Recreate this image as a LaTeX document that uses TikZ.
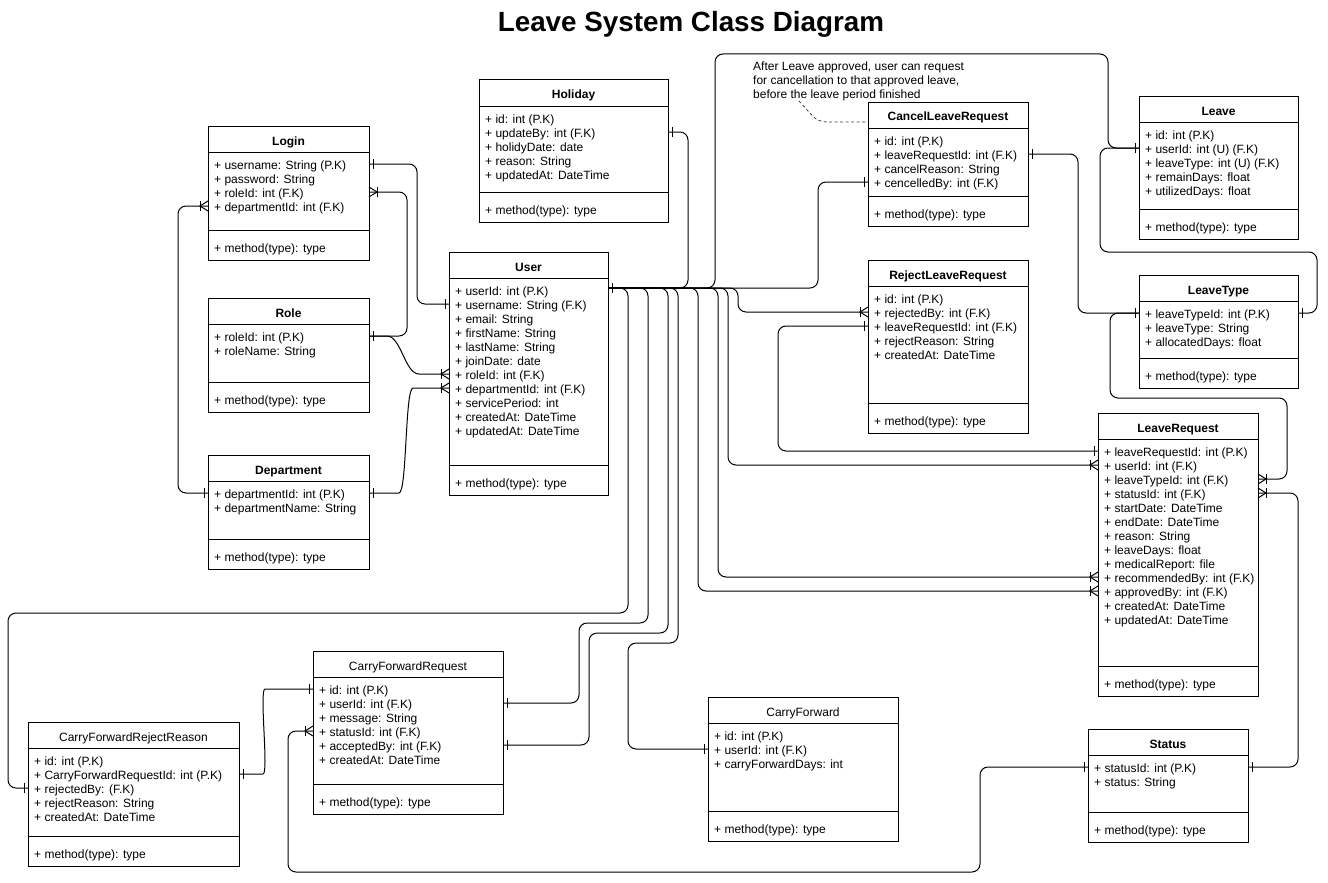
\documentclass[tikz,border=0pt]{standalone}
\usepackage{fontspec}
\setmainfont{Liberation Sans}
\usetikzlibrary{calc}
\tikzset{
  cbox/.style={draw, line width=1pt, inner sep=0pt, outer sep=0pt},
  cline/.style={line width=1pt},
  ctitle/.style={font=\fontsize{12}{14}\selectfont, inner sep=0pt},
  cattr/.style={font=\fontsize{12}{14}\selectfont, inner sep=0pt, text height=10pt, text depth=0pt},
  notetext/.style={font=\fontsize{12}{14}\selectfont, inner sep=0pt, align=left},
  titlefont/.style={font=\bfseries\fontsize{27.8}{32}\selectfont, inner sep=0pt},
  conn/.style={draw, line width=1pt, rounded corners=8pt},
  notelink/.style={draw, line width=0.8pt, black!75, dash pattern=on 3pt off 2.5pt, rounded corners=8pt},
  mk/.style={line width=1pt},
  pics/one/.style={code={\draw[mk] (4,-5) -- (4,5);}},
  pics/many/.style={code={\draw[mk] (8,-5) -- (8,5); \draw[mk] (0,-5) -- (8,0) -- (0,5);}},
}
\newcommand{\erclass}[7]{%
  \node[cbox, minimum width=#4pt, minimum height=#5pt, anchor=north west] (#1) at (#2,#3) {};
  \draw[cline] ([yshift=-26pt]#1.north west) -- ([yshift=-26pt]#1.north east);
  \draw[cline] ([yshift=30pt]#1.south west) -- ([yshift=30pt]#1.south east);
  \node[ctitle, anchor=base] (#1-t) at ([yshift=-19pt]#1.north) {#6};
  \node[cattr, anchor=base west] (#1-m) at ([xshift=6pt, yshift=8pt]#1.south west) {+ method(type): type};
  \foreach \attr [count=\idx] in {#7} {
    \node[cattr, anchor=base west] (#1-a\idx) at ([xshift=6pt, yshift={-(43+(\idx-1)*14)*1pt}]#1.north west) {\attr};
  }
}
\begin{document}
\begin{tikzpicture}[x=1pt,y=-1pt]
\fill[white] (0,0) rectangle (1328,883);
\useasboundingbox (0,0) rectangle (1328,883);

\node[titlefont, anchor=base] (title) at (691,32) {Leave System Class Diagram};

\erclass{login}{208}{126}{161}{134}{\textbf{Login}}{+ username: String (P.K),+ password: String,+ roleId: int (F.K),+ departmentId: int (F.K)}
\erclass{role}{208}{298}{161}{114}{\textbf{Role}}{+ roleId: int (P.K),+ roleName: String}
\erclass{dept}{208}{455}{161}{114}{\textbf{Department}}{+ departmentId: int (P.K),+ departmentName: String}
\erclass{user}{449}{252}{159}{243}{\textbf{User}}{+ userId: int (P.K),+ username: String (F.K),+ email: String,+ firstName: String,+ lastName: String,+ joinDate: date,+ roleId: int (F.K),+ departmentId: int (F.K),+ servicePeriod: int,+ createdAt: DateTime,+ updatedAt: DateTime}
\erclass{holiday}{479}{80}{189}{142}{\textbf{Holiday}}{+ id: int (P.K),+ updateBy: int (F.K),+ holidyDate: date,+ reason: String,+ updatedAt: DateTime}
\erclass{cancel}{868}{102}{160}{124}{\textbf{CancelLeaveRequest}}{+ id: int (P.K),+ leaveRequestId: int (F.K),+ cancelReason: String,+ cencelledBy: int (F.K)}
\erclass{reject}{868}{260}{160}{173}{\textbf{RejectLeaveRequest}}{+ id: int (P.K),+ rejectedBy: int (F.K),+ leaveRequestId: int (F.K),+ rejectReason: String,+ createdAt: DateTime}
\erclass{leave}{1139}{96}{159}{143}{\textbf{Leave}}{+ id: int (P.K),+ userId: int (U) (F.K),+ leaveType: int (U) (F.K),+ remainDays: float,+ utilizedDays: float}
\erclass{leavetype}{1139}{275}{159}{113}{\textbf{LeaveType}}{+ leaveTypeId: int (P.K),+ leaveType: String,+ allocatedDays: float}
\erclass{lr}{1098}{413}{160}{283}{\textbf{LeaveRequest}}{+ leaveRequestId: int (P.K),+ userId: int (F.K),+ leaveTypeId: int (F.K),+ statusId: int (F.K),+ startDate: DateTime,+ endDate: DateTime,+ reason: String,+ leaveDays: float,+ medicalReport: file,+ recommendedBy: int (F.K),+ approvedBy: int (F.K),+ createdAt: DateTime,+ updatedAt: DateTime}
\erclass{status}{1088}{729}{160}{113}{\textbf{Status}}{+ statusId: int (P.K),+ status: String}
\erclass{cf}{708}{697}{190}{144}{CarryForward}{+ id: int (P.K),+ userId: int (F.K),+ carryForwardDays: int}
\erclass{cfr}{313}{651}{190}{163}{CarryForwardRequest}{+ id: int (P.K),+ userId: int (F.K),+ message: String,+ statusId: int (F.K),+ acceptedBy: int (F.K),+ createdAt: DateTime}
\erclass{cfrr}{28}{722}{211}{144}{CarryForwardRejectReason}{+ id: int (P.K),+ CarryForwardRequestId: int (P.K),+ rejectedBy: (F.K),+ rejectReason: String,+ createdAt: DateTime}

% note
\node[notetext, anchor=north west] (note) at (753,62) {After Leave approved, user can request\\for cancellation to that approved leave,\\before the leave period finished};
\coordinate (notetail) at (799,101);
\draw[notelink] (notetail) -- (818,122) -- ([yshift=-20pt]cancel.north west);

% endpoints
\coordinate (lgU) at (login-a1.west -| login.east);
\coordinate (lgR) at (login-a3.west -| login.east);
\coordinate (lgD) at (login-a4.west -| login.west);
\coordinate (roL) at (role-a1.west -| role.east);
\coordinate (deL) at (dept-a1.west -| dept.west);
\coordinate (deR) at (dept-a1.west -| dept.east);
\coordinate (usN) at (user-a2.west -| user.west);
\coordinate (usR) at (user-a7.west -| user.west);
\coordinate (usD) at (user-a8.west -| user.west);
\coordinate (usO) at (user.east |- 0,288);
\coordinate (hoU) at (holiday-a2.west -| holiday.east);
\coordinate (lvU) at (leave-a2.west -| leave.west);
\coordinate (clL) at (cancel-a2.west -| cancel.east);
\coordinate (clC) at (cancel-a4.west -| cancel.west);
\coordinate (rjR) at (reject-a2.west -| reject.west);
\coordinate (rjL) at (reject-a3.west -| reject.west);
\coordinate (ltW) at (leavetype-a1.west -| leavetype.west);
\coordinate (ltE) at (leavetype-a1.west -| leavetype.east);
\coordinate (lrI) at (lr-a1.west -| lr.west);
\coordinate (lrU) at (lr-a2.west -| lr.west);
\coordinate (lrT) at (lr-a3.west -| lr.east);
\coordinate (lrS) at (lr-a4.west -| lr.east);
\coordinate (lrR) at (lr-a10.west -| lr.west);
\coordinate (lrA) at (lr-a11.west -| lr.west);
\coordinate (stE) at (status-a1.west -| status.east);
\coordinate (stW) at (status-a1.west -| status.west);
\coordinate (cfU) at (cf-a2.west -| cf.west);
\coordinate (crI) at (cfr-a1.west -| cfr.west);
\coordinate (crU) at (cfr-a2.west -| cfr.east);
\coordinate (crS) at (cfr-a4.west -| cfr.west);
\coordinate (crA) at (cfr-a5.west -| cfr.east);
\coordinate (rrC) at (cfrr-a2.west -| cfrr.east);
\coordinate (rrB) at (cfrr-a3.west -| cfrr.west);

% connectors
\draw[conn] (lgU) -- ++(48,0) |- (usN);
\draw[conn] (lgR) -- ++(38,0) |- (roL);
\draw[conn] (lgD) -- ++(-30,0) |- (deL);
\draw[conn] (roL) -- ++(10,0) .. controls +(22,0) and +(-22,0) .. ($(usR)+(-22,0)$) -- (usR);
\draw[conn] (deR) -- ++(22,0) .. controls +(16,0) and +(-16,0) .. ($(usD)+(-28,0)$) -- (usD);
\draw[conn] (usO) -- ++(80,0) |- (hoU);
\draw[conn] (usO) -| (715,54) -| ($(lvU)+(-31,0)$) -- (lvU);
\draw[conn] (usO) -| ($(clC)+(-50,0)$) -- (clC);
\draw[conn] (usO) -| ($(rjR)+(-130,0)$) -- (rjR);
\draw[conn] (usO) -| ($(lrU)+(-370,0)$) -- (lrU);
\draw[conn] (usO) -| ($(lrR)+(-380,0)$) -- (lrR);
\draw[conn] (usO) -| ($(lrA)+(-400,0)$) -- (lrA);
\draw[conn] (usO) -| (628,613) -| ($(rrB)+(-20,0)$) -- (rrB);
\draw[conn] (usO) -| (648,623) -| ($(crU)+(76,0)$) -- (crU);
\draw[conn] (usO) -| (668,633) -| ($(crA)+(86,0)$) -- (crA);
\draw[conn] (usO) -| (678,643) -| ($(cfU)+(-80,0)$) -- (cfU);
\draw[conn] (rjL) -- ++(-90,0) |- (lrI);
\draw[conn] (clL) -- ++(50,0) |- (ltW);
\draw[conn] (lvU) -- ++(-39,0) |- (1317,252) |- (ltE);
\draw[conn] (lrT) -- ++(29,0) |- (1110,398) |- (ltW);
\draw[conn] (lrS) -- ++(40,0) |- (stE);
\draw[conn] (stW) -- ++(-108,0) |- (288,872) |- (crS);
\draw[conn] (rrC) -- ++(16,0) .. controls +(14,0) and +(-14,0) .. ($(crI)+(-40,0)$) -- (crI);

% markers
\pic at (lgU) {one}; \pic[rotate=180] at (usN) {one};
\pic at (lgR) {many}; \pic at (roL) {one};
\pic[rotate=180] at (lgD) {many}; \pic[rotate=180] at (deL) {one};
\pic[rotate=180] at (usR) {many};
\pic at (deR) {one}; \pic[rotate=180] at (usD) {many};
\pic at (usO) {one};
\pic at (hoU) {one};
\pic[rotate=180] at (lvU) {one};
\pic[rotate=180] at (clC) {one};
\pic[rotate=180] at (rjR) {many};
\pic[rotate=180] at (lrU) {many};
\pic[rotate=180] at (lrR) {many};
\pic[rotate=180] at (lrA) {many};
\pic[rotate=180] at (rrB) {one};
\pic at (crU) {one}; \pic at (crA) {one};
\pic[rotate=180] at (cfU) {one};
\pic[rotate=180] at (rjL) {one}; \pic[rotate=180] at (lrI) {one};
\pic at (clL) {one}; \pic[rotate=180] at (ltW) {one};
\pic at (ltE) {one};
\pic at (lrT) {many};
\pic at (lrS) {many}; \pic at (stE) {one};
\pic[rotate=180] at (stW) {one}; \pic[rotate=180] at (crS) {many};
\pic at (rrC) {one}; \pic[rotate=180] at (crI) {one};
\end{tikzpicture}
\end{document}
